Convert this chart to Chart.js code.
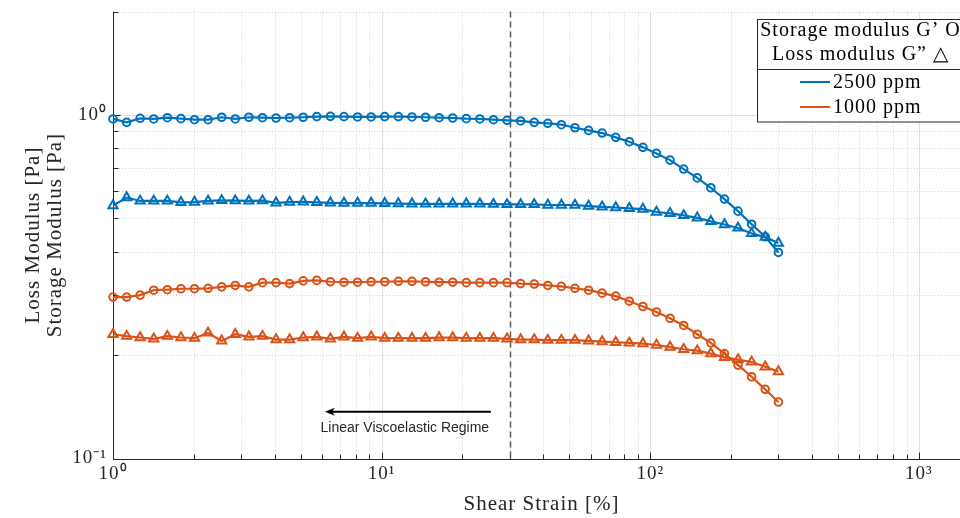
<!DOCTYPE html>
<html><head><meta charset="utf-8">
<script src="https://cdn.jsdelivr.net/npm/chart.js@4/dist/chart.umd.min.js"></script>
<style>
html,body{margin:0;padding:0;background:#fff;overflow:hidden;width:960px;height:518px}
#wrap{width:960px;height:518px;overflow:hidden;position:relative}
canvas{display:block}
</style></head>
<body><div id="wrap"><canvas id="c" width="990" height="518"></canvas></div>
<script>
// ---------- data ----------
const strain = [1.000,1.124,1.262,1.418,1.593,1.790,2.011,2.259,2.539,2.852,3.205,3.601,4.046,4.545,5.107,5.737,6.446,7.242,8.137,9.142,
  10.27,11.54,12.97,14.57,16.37,18.39,20.66,23.21,26.08,29.30,32.92,36.99,41.55,46.69,52.45,58.93,66.21,74.39,83.58,93.90,
  105.5,118.5,133.2,149.6,168.1,188.9,212.2,238.4,267.9,300.0];
const storage2500 = [0.974,0.952,0.978,0.974,0.982,0.976,0.969,0.969,0.985,0.974,0.985,0.982,0.980,0.982,0.985,0.989,0.991,0.989,0.987,0.987,
  0.989,0.989,0.987,0.985,0.982,0.980,0.976,0.974,0.969,0.965,0.961,0.952,0.946,0.937,0.918,0.902,0.886,0.861,0.836,0.805,
  0.773,0.739,0.696,0.656,0.614,0.569,0.525,0.481,0.442,0.398];
const loss2500 = [0.545,0.575,0.562,0.562,0.562,0.557,0.558,0.562,0.564,0.563,0.562,0.563,0.555,0.558,0.559,0.557,0.555,0.554,0.554,0.554,
  0.553,0.552,0.551,0.551,0.551,0.551,0.551,0.551,0.550,0.549,0.549,0.549,0.547,0.547,0.547,0.543,0.540,0.538,0.535,0.532,
  0.522,0.517,0.510,0.502,0.490,0.480,0.469,0.452,0.441,0.424];
const storage1000 = [0.295,0.295,0.299,0.309,0.310,0.312,0.312,0.313,0.316,0.319,0.316,0.325,0.325,0.323,0.329,0.330,0.327,0.326,0.326,0.327,
  0.327,0.328,0.328,0.327,0.326,0.326,0.325,0.325,0.325,0.325,0.323,0.322,0.319,0.317,0.313,0.309,0.303,0.297,0.287,0.277,
  0.267,0.256,0.244,0.230,0.217,0.202,0.187,0.173,0.159,0.146];
const loss1000 = [0.230,0.227,0.225,0.223,0.227,0.225,0.224,0.232,0.220,0.230,0.226,0.227,0.222,0.222,0.225,0.226,0.223,0.226,0.224,0.226,
  0.224,0.224,0.224,0.224,0.225,0.225,0.224,0.224,0.224,0.223,0.222,0.222,0.221,0.221,0.221,0.220,0.219,0.218,0.217,0.216,
  0.214,0.211,0.208,0.206,0.202,0.197,0.194,0.191,0.185,0.179];

const seriesNames = ['2500 ppm', '1000 ppm'];
const markerLegend = ['Storage modulus G\u2019 O', 'Loss modulus G\u201D \u25B3'];
const xTickValues = [1,2,3,4,5,6,7,8,9,10,20,30,40,50,60,70,80,90,100,200,300,400,500,600,700,800,900,1000];
const yTickValues = [0.1,0.2,0.3,0.4,0.5,0.6,0.7,0.8,0.9,1,2];
const xTitle = 'Shear Strain [%]';
const yTitle = ['Loss Modulus [Pa]', 'Storage Modulus [Pa]'];
const lverStrain = 30;
const annotationText = 'Linear Viscoelastic Regime';
const arrowFromX = 25.5, arrowToX = 6.15, arrowY = 0.1368;
const annotTextX = 12.2, annotTextY = 0.1225;

// ---------- styling ----------
const BLUE = '#0072BD', ORANGE = '#D95319', INK = '#262626';
const SERIF = '"Liberation Serif", "Times New Roman", serif';
const SANS = '"Liberation Sans", Arial, sans-serif';
const supMap = {'0':'\u2070','1':'\u00B9','2':'\u00B2','3':'\u00B3','4':'\u2074','5':'\u2075','6':'\u2076','7':'\u2077','8':'\u2078','9':'\u2079','-':'\u207B'};
const isDecade = v => Math.abs(Math.log10(v) - Math.round(Math.log10(v))) < 1e-9;
const decadeLabel = v => isDecade(v) ? '10' + String(Math.round(Math.log10(v))).split('').map(c => supMap[c]).join('') : '';

function ds(label, data, color, style, radius) {
  return {
    label, data: strain.map((x, i) => ({x, y: data[i]})),
    borderColor: color, backgroundColor: 'rgba(0,0,0,0)', borderWidth: 2.2,
    pointStyle: style, pointRadius: radius, pointBorderWidth: 2,
    pointBorderColor: color, pointBackgroundColor: 'rgba(0,0,0,0)',
    tension: 0, clip: false
  };
}
function noPad(s) { s.paddingTop = 0; s.paddingBottom = 0; s.paddingLeft = 0; s.paddingRight = 0; }

const axesPlugin = {
  id: 'matlabAxes',
  beforeDraw(chart) { chart.ctx.letterSpacing = '1px'; },
  beforeDatasetsDraw(chart) {
    const {ctx, chartArea: a, scales: {x, y}} = chart;
    ctx.save();
    ctx.lineWidth = 1;
    // grid
    xTickValues.forEach(v => {
      const px = Math.round(x.getPixelForValue(v)) + 0.5;
      if (v === 1 || px > a.right) return;
      const major = isDecade(v);
      ctx.strokeStyle = major ? '#e0e0e0' : '#d4d4d4';
      ctx.setLineDash(major ? [] : [1, 2]);
      ctx.beginPath(); ctx.moveTo(px, a.top); ctx.lineTo(px, a.bottom); ctx.stroke();
    });
    yTickValues.forEach(v => {
      const py = Math.round(y.getPixelForValue(v)) + 0.5;
      if (v === 0.1) return;
      const major = isDecade(v);
      ctx.strokeStyle = major ? '#e0e0e0' : '#d4d4d4';
      ctx.setLineDash(major ? [] : [1, 2]);
      ctx.beginPath(); ctx.moveTo(a.left, py); ctx.lineTo(a.right, py); ctx.stroke();
    });
    ctx.setLineDash([]);
    // axis lines
    ctx.strokeStyle = INK;
    const L = Math.round(a.left) + 0.5, B = Math.round(a.bottom) + 0.5;
    ctx.beginPath(); ctx.moveTo(L, a.top); ctx.lineTo(L, B); ctx.lineTo(a.right, B); ctx.stroke();
    // inward ticks
    xTickValues.forEach(v => {
      const px = Math.round(x.getPixelForValue(v)) + 0.5;
      if (px > a.right) return;
      const len = isDecade(v) ? 7 : 5;
      ctx.beginPath(); ctx.moveTo(px, B); ctx.lineTo(px, B - len); ctx.stroke();
    });
    yTickValues.forEach(v => {
      const py = Math.round(y.getPixelForValue(v)) + 0.5;
      const len = isDecade(v) ? 7 : 5;
      ctx.beginPath(); ctx.moveTo(L, py); ctx.lineTo(L + len, py); ctx.stroke();
    });
    // LVE limit dashed line
    const lx = Math.round(x.getPixelForValue(lverStrain)) + 0.5;
    ctx.strokeStyle = '#5a5a5a'; ctx.lineWidth = 1.5; ctx.setLineDash([6, 4]);
    ctx.beginPath(); ctx.moveTo(lx, a.top); ctx.lineTo(lx, a.bottom); ctx.stroke();
    ctx.restore();
  },
  afterDatasetsDraw(chart) {
    const {ctx, scales: {x, y}} = chart;
    ctx.save();
    const x0 = x.getPixelForValue(arrowFromX), x1 = x.getPixelForValue(arrowToX), ay = y.getPixelForValue(arrowY);
    ctx.strokeStyle = '#000'; ctx.fillStyle = '#000'; ctx.lineWidth = 2;
    ctx.beginPath(); ctx.moveTo(x0, ay); ctx.lineTo(x1 + 6, ay); ctx.stroke();
    ctx.beginPath(); ctx.moveTo(x1, ay); ctx.lineTo(x1 + 10, ay - 4); ctx.lineTo(x1 + 7, ay); ctx.lineTo(x1 + 10, ay + 4); ctx.closePath(); ctx.fill();
    ctx.letterSpacing = '0px';
    ctx.font = '14px ' + SANS; ctx.fillStyle = INK; ctx.textAlign = 'center'; ctx.textBaseline = 'middle';
    ctx.fillText(annotationText, x.getPixelForValue(annotTextX), y.getPixelForValue(annotTextY));
    ctx.restore();
  },
  afterDraw(chart) {
    const ctx = chart.ctx;
    ctx.save();
    ctx.letterSpacing = '1px';
    const bx = 757.5, by = 19.5, bw = 206, bh = 102.5, sep = 69.5;
    ctx.fillStyle = '#fff'; ctx.fillRect(bx, by, bw, bh);
    ctx.strokeStyle = INK; ctx.lineWidth = 1;
    ctx.strokeRect(bx, by, bw, bh);
    ctx.beginPath(); ctx.moveTo(bx, sep); ctx.lineTo(bx + bw, sep); ctx.stroke();
    ctx.fillStyle = '#000'; ctx.font = '20px ' + SERIF; ctx.textBaseline = 'alphabetic';
    ctx.textAlign = 'center';
    ctx.fillText(markerLegend[0], bx + bw / 2, 35.5);
    ctx.fillText(markerLegend[1], bx + bw / 2, 59.5);
    ctx.textAlign = 'left';
    const colors = [BLUE, ORANGE], rowY = [82, 107];
    seriesNames.forEach((n, i) => {
      ctx.strokeStyle = colors[i]; ctx.lineWidth = 2;
      ctx.beginPath(); ctx.moveTo(800, rowY[i]); ctx.lineTo(830, rowY[i]); ctx.stroke();
      ctx.fillText(n, 833, rowY[i] + 5.5);
    });
    ctx.restore();
  }
};

new Chart(document.getElementById('c'), {
  type: 'line',
  data: {
    datasets: [
      ds('2500 ppm G\u2019', storage2500, BLUE, 'circle', 3.8),
      ds('2500 ppm G\u201D', loss2500, BLUE, 'triangle', 5.3),
      ds('1000 ppm G\u2019', storage1000, ORANGE, 'circle', 3.8),
      ds('1000 ppm G\u201D', loss1000, ORANGE, 'triangle', 5.3)
    ]
  },
  options: {
    responsive: false, animation: false, devicePixelRatio: 1,
    layout: {padding: {top: 11.6, right: 20, left: 0, bottom: 0}},
    plugins: {legend: {display: false}, tooltip: {enabled: false}},
    scales: {
      x: {
        type: 'logarithmic', min: 1, max: 1550, position: 'bottom',
        afterBuildTicks: s => { s.ticks = xTickValues.map(v => ({value: v, major: isDecade(v)})); },
        afterFit: s => { s.height = 59.5; noPad(s); },
        grid: {display: false, drawTicks: false}, border: {display: false},
        ticks: {autoSkip: false, maxRotation: 0, minRotation: 0, padding: 4, color: INK,
                font: {family: SERIF, size: 19}, callback: v => decadeLabel(v)},
        title: {display: true, text: xTitle, color: INK, font: {family: SERIF, size: 21, lineHeight: 1.05},
                padding: {top: 0, bottom: 2}}
      },
      y: {
        type: 'logarithmic', min: 0.1, max: 2, position: 'left',
        afterBuildTicks: s => { s.ticks = yTickValues.map(v => ({value: v, major: isDecade(v)})); },
        afterFit: s => { s.width = 113; noPad(s); },
        grid: {display: false, drawTicks: false}, border: {display: false},
        ticks: {autoSkip: false, padding: 6, color: INK,
                font: {family: SERIF, size: 19}, callback: v => decadeLabel(v)},
        title: {display: true, text: yTitle, color: INK, font: {family: SERIF, size: 21, lineHeight: 1.05},
                padding: {top: 22, bottom: 0}}
      }
    }
  },
  plugins: [axesPlugin]
});
</script>
</body></html>
